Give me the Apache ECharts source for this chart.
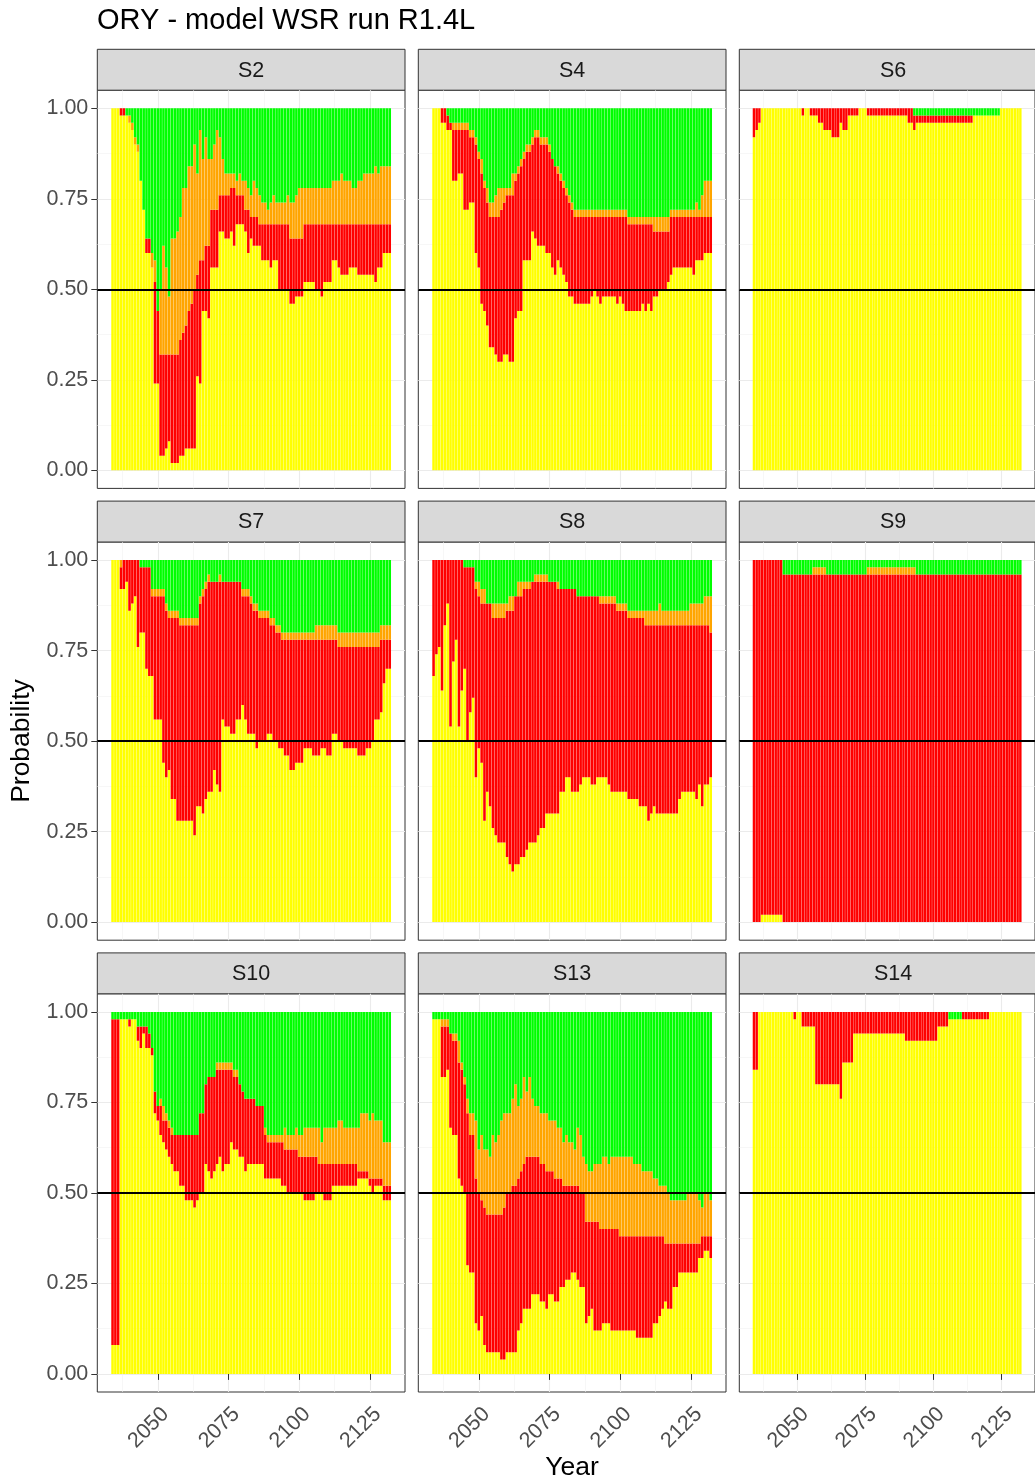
<!DOCTYPE html>
<html>
<head>
<meta charset="utf-8">
<script src="https://cdn.jsdelivr.net/npm/echarts@6/dist/echarts.min.js"></script>
<style>
  html, body { margin: 0; padding: 0; background: #ffffff; }
  #chart { width: 1035px; height: 1484px; }
</style>
</head>
<body>
<div id="chart"></div>
<script>
// Simulation years shown as bars
const firstYear = 2034;
const lastYear = 2132;
const years = [];
for (let yr = firstYear; yr <= lastYear; yr++) years.push(yr);

const panelNames = ['S2', 'S4', 'S6', 'S7', 'S8', 'S9', 'S10', 'S13', 'S14'];
const majorYears = [2050, 2075, 2100, 2125];
const minorYears = [2037.5, 2062.5, 2087.5, 2112.5];
const probTicks = [0, 0.25, 0.5, 0.75, 1];
const probMinor = [0.125, 0.375, 0.625, 0.875];

// Cumulative probability at the top of each band (yellow, red, orange); green fills to 1.
const s2YellowTop = [
  1, 1, 1, .98, .98, .98, .96, .94, .90, .88,
  .80, .72, .60, .60, .56, .24, .24, .04, .04, .06,
  .08, .02, .02, .02, .04, .04, .06, .06, .06, .06,
  .26, .24, .44, .44, .42, .56, .56, .56, .66, .66,
  .64, .64, .66, .62, .68, .68, .68, .66, .60, .64,
  .62, .62, .62, .58, .58, .58, .56, .58, .58, .50,
  .50, .50, .50, .46, .46, .48, .48, .48, .52, .52,
  .52, .52, .50, .50, .48, .52, .52, .52, .58, .58,
  .56, .54, .54, .54, .56, .56, .56, .54, .54, .54,
  .54, .54, .54, .52, .56, .56, .60, .60, .60];
const s2RedTop = [
  1, 1, 1, 1, 1, .98, .96, .94, .90, .88,
  .80, .72, .64, .64, .56, .52, .44, .32, .32, .32,
  .32, .32, .32, .32, .36, .38, .40, .44, .46, .50,
  .54, .58, .58, .62, .62, .72, .72, .72, .76, .76,
  .76, .76, .78, .78, .76, .76, .76, .72, .72, .70,
  .70, .70, .68, .68, .68, .68, .68, .68, .68, .68,
  .68, .68, .68, .64, .64, .64, .64, .64, .68, .68,
  .68, .68, .68, .68, .68, .68, .68, .68, .68, .68,
  .68, .68, .68, .68, .68, .68, .68, .68, .68, .68,
  .68, .68, .68, .68, .68, .68, .68, .68, .68];
const s2OrangeTop = [
  1, 1, 1, 1, 1, .98, .98, .96, .92, .90,
  .80, .72, .64, .64, .60, .58, .44, .50, .62, .56,
  .48, .64, .64, .66, .70, .78, .78, .84, .84, .90,
  .82, .94, .86, .92, .86, .86, .90, .94, .92, .86,
  .82, .82, .82, .82, .80, .82, .80, .80, .78, .76,
  .80, .78, .76, .74, .74, .72, .74, .76, .74, .74,
  .74, .74, .76, .74, .74, .76, .78, .78, .78, .78,
  .78, .78, .78, .78, .78, .78, .78, .78, .80, .80,
  .80, .82, .80, .80, .80, .78, .78, .80, .80, .82,
  .82, .82, .82, .84, .82, .84, .84, .84, .84];

const s4YellowTop = [
  1, 1, 1, .96, .96, .94, .94, .80, .80, .82,
  .82, .72, .72, .74, .74, .60, .56, .46, .44, .40,
  .34, .34, .32, .30, .30, .32, .32, .30, .30, .42,
  .44, .44, .58, .58, .58, .66, .64, .62, .62, .62,
  .60, .60, .56, .54, .58, .56, .54, .52, .48, .48,
  .46, .46, .46, .46, .46, .46, .48, .50, .48, .46,
  .48, .48, .48, .48, .48, .46, .48, .46, .44, .44,
  .44, .44, .44, .44, .46, .44, .46, .44, .48, .48,
  .50, .50, .50, .52, .54, .56, .56, .56, .56, .56,
  .56, .56, .54, .58, .58, .58, .60, .60, .60];
const s4RedTop = [
  1, 1, 1, 1, 1, .98, .96, .94, .94, .94,
  .94, .94, .94, .92, .92, .90, .86, .82, .78, .74,
  .70, .70, .70, .70, .72, .74, .76, .76, .76, .80,
  .82, .84, .86, .88, .88, .90, .92, .92, .90, .90,
  .90, .88, .86, .84, .82, .80, .78, .76, .74, .72,
  .70, .70, .70, .70, .70, .70, .70, .70, .70, .70,
  .70, .70, .70, .70, .70, .70, .70, .70, .70, .68,
  .68, .68, .68, .68, .68, .68, .68, .68, .66, .66,
  .66, .66, .66, .66, .70, .70, .70, .70, .70, .70,
  .70, .70, .70, .70, .70, .70, .70, .70, .70];
const s4OrangeTop = [
  1, 1, 1, 1, 1, .98, .96, .96, .96, .96,
  .96, .96, .96, .94, .94, .92, .88, .86, .80, .78,
  .74, .74, .76, .78, .78, .78, .78, .78, .82, .82,
  .84, .86, .88, .90, .90, .92, .94, .94, .92, .92,
  .92, .90, .86, .84, .84, .82, .80, .78, .76, .74,
  .72, .72, .72, .72, .72, .72, .72, .72, .72, .72,
  .72, .72, .72, .72, .72, .72, .72, .72, .72, .70,
  .70, .70, .70, .70, .70, .70, .70, .70, .70, .70,
  .70, .70, .70, .70, .72, .72, .72, .72, .72, .72,
  .72, .72, .72, .74, .72, .76, .80, .80, .80];

const s6YellowTop = [
  .92, .94, .96, 1, 1, 1, 1, 1, 1, 1,
  1, 1, 1, 1, 1, 1, 1, 1, .98, 1,
  1, .98, .98, .98, .96, .96, .94, .94, .94, .92,
  .92, .92, .96, .94, .94, .98, .98, .98, .98, 1,
  1, 1, .98, .98, .98, .98, .98, .98, .98, .98,
  .98, .98, .98, .98, .98, .98, .98, .96, .96, .94,
  .96, .96, .96, .96, .96, .96, .96, .96, .96, .96,
  .96, .96, .96, .96, .96, .96, .96, .96, .96, .96,
  .96, .98, .98, .98, .98, .98, .98, .98, .98, .98,
  .98, 1, 1, 1, 1, 1, 1, 1, 1];
const s6RedTop = [
  1, 1, 1, 1, 1, 1, 1, 1, 1, 1,
  1, 1, 1, 1, 1, 1, 1, 1, 1, 1,
  1, 1, 1, 1, 1, 1, 1, 1, 1, 1,
  1, 1, 1, 1, 1, 1, 1, 1, 1, 1,
  1, 1, 1, 1, 1, 1, 1, 1, 1, 1,
  1, 1, 1, 1, 1, 1, 1, 1, 1, .98,
  .98, .98, .98, .98, .98, .98, .98, .98, .98, .98,
  .98, .98, .98, .98, .98, .98, .98, .98, .98, .98,
  .98, .98, .98, .98, .98, .98, .98, .98, .98, .98,
  .98, 1, 1, 1, 1, 1, 1, 1, 1];
const s6OrangeTop = s6RedTop;

const s7YellowTop = [
  1, 1, 1, .92, .92, .94, .86, .88, .90, .76,
  .80, .80, .70, .68, .68, .56, .56, .56, .44, .40,
  .42, .34, .34, .28, .28, .28, .28, .28, .28, .24,
  .32, .32, .30, .34, .36, .36, .42, .38, .36, .56,
  .54, .54, .52, .52, .56, .56, .60, .56, .52, .52,
  .52, .48, .50, .50, .50, .52, .52, .50, .50, .48,
  .48, .46, .46, .42, .42, .44, .44, .44, .48, .48,
  .48, .46, .46, .46, .48, .48, .46, .46, .52, .52,
  .50, .50, .48, .48, .48, .48, .48, .46, .46, .46,
  .48, .48, .50, .56, .56, .58, .66, .70, .70];
const s7RedTop = [
  1, 1, 1, .98, 1, 1, 1, 1, 1, 1,
  .98, .98, .98, .98, .90, .90, .90, .90, .90, .86,
  .84, .84, .84, .84, .82, .82, .82, .82, .82, .82,
  .82, .88, .90, .92, .94, .94, .94, .94, .94, .94,
  .94, .94, .94, .94, .94, .94, .90, .90, .90, .88,
  .86, .86, .84, .84, .84, .84, .82, .82, .80, .80,
  .78, .78, .78, .78, .78, .78, .78, .78, .78, .78,
  .78, .78, .78, .78, .78, .78, .78, .78, .78, .78,
  .76, .76, .76, .76, .76, .76, .76, .76, .76, .76,
  .76, .76, .76, .76, .76, .78, .78, .78, .78];
const s7OrangeTop = [
  1, 1, 1, 1, 1, 1, 1, 1, 1, 1,
  .98, .98, .98, .98, .92, .92, .92, .92, .92, .88,
  .86, .86, .86, .86, .84, .84, .84, .84, .84, .84,
  .84, .90, .92, .94, .96, .94, .94, .94, .96, .94,
  .94, .94, .94, .94, .94, .94, .92, .92, .92, .90,
  .88, .88, .86, .86, .86, .86, .84, .84, .82, .82,
  .80, .80, .80, .80, .80, .80, .80, .80, .80, .80,
  .80, .80, .82, .82, .82, .82, .82, .82, .82, .82,
  .80, .80, .80, .80, .80, .80, .80, .80, .80, .80,
  .80, .80, .80, .80, .80, .82, .82, .82, .82];

const s8YellowTop = [
  .68, .74, .76, .64, .82, .88, .54, .72, .78, .54,
  .64, .70, .50, .58, .62, .40, .48, .44, .28, .36,
  .32, .26, .24, .22, .22, .22, .18, .16, .14, .16,
  .16, .18, .18, .20, .22, .22, .22, .24, .26, .26,
  .30, .30, .30, .30, .30, .36, .36, .40, .40, .36,
  .36, .36, .38, .40, .40, .40, .38, .38, .40, .40,
  .40, .40, .38, .36, .36, .36, .36, .36, .36, .34,
  .34, .34, .34, .32, .32, .32, .28, .30, .32, .30,
  .30, .30, .30, .30, .30, .30, .30, .34, .36, .36,
  .36, .36, .36, .34, .38, .32, .38, .38, .40];
const s8RedTop = [
  1, 1, 1, 1, 1, 1, 1, 1, 1, 1,
  1, .98, .98, .98, .98, .92, .90, .88, .88, .88,
  .88, .84, .84, .84, .84, .84, .86, .86, .86, .90,
  .90, .90, .92, .92, .92, .94, .94, .94, .94, .94,
  .94, .94, .94, .94, .92, .92, .92, .92, .92, .92,
  .92, .90, .90, .90, .90, .90, .90, .90, .90, .88,
  .88, .88, .88, .88, .88, .86, .86, .86, .86, .84,
  .84, .84, .84, .84, .84, .82, .82, .82, .82, .82,
  .82, .82, .82, .82, .82, .82, .82, .82, .82, .82,
  .82, .82, .82, .82, .82, .82, .82, .82, .80];
const s8OrangeTop = [
  1, 1, 1, 1, 1, 1, 1, 1, 1, 1,
  1, .98, .98, .98, .98, .94, .94, .92, .92, .88,
  .88, .88, .88, .88, .88, .88, .88, .90, .90, .90,
  .94, .94, .94, .94, .94, .94, .96, .96, .96, .96,
  .96, .94, .94, .94, .94, .92, .92, .92, .92, .92,
  .92, .90, .90, .90, .90, .90, .90, .90, .90, .90,
  .90, .90, .90, .90, .90, .88, .88, .88, .88, .86,
  .86, .86, .86, .86, .86, .86, .86, .86, .86, .86,
  .88, .86, .86, .86, .86, .86, .86, .86, .86, .86,
  .86, .88, .88, .88, .88, .88, .90, .90, .90];

const s9YellowTop = [
  0, 0, 0, .02, .02, .02, .02, .02, .02, .02,
  .02, 0, 0, 0, 0, 0, 0, 0, 0, 0,
  0, 0, 0, 0, 0, 0, 0, 0, 0, 0,
  0, 0, 0, 0, 0, 0, 0, 0, 0, 0,
  0, 0, 0, 0, 0, 0, 0, 0, 0, 0,
  0, 0, 0, 0, 0, 0, 0, 0, 0, 0,
  0, 0, 0, 0, 0, 0, 0, 0, 0, 0,
  0, 0, 0, 0, 0, 0, 0, 0, 0, 0,
  0, 0, 0, 0, 0, 0, 0, 0, 0, 0,
  0, 0, 0, 0, 0, 0, 0, 0, 0];
const s9RedTop = [
  1, 1, 1, 1, 1, 1, 1, 1, 1, 1,
  1, .96, .96, .96, .96, .96, .96, .96, .96, .96,
  .96, .96, .96, .96, .96, .96, .96, .96, .96, .96,
  .96, .96, .96, .96, .96, .96, .96, .96, .96, .96,
  .96, .96, .96, .96, .96, .96, .96, .96, .96, .96,
  .96, .96, .96, .96, .96, .96, .96, .96, .96, .96,
  .96, .96, .96, .96, .96, .96, .96, .96, .96, .96,
  .96, .96, .96, .96, .96, .96, .96, .96, .96, .96,
  .96, .96, .96, .96, .96, .96, .96, .96, .96, .96,
  .96, .96, .96, .96, .96, .96, .96, .96, .96];
const s9OrangeTop = [
  1, 1, 1, 1, 1, 1, 1, 1, 1, 1,
  1, .96, .96, .96, .96, .96, .96, .96, .96, .96,
  .96, .96, .98, .98, .98, .98, .98, .96, .96, .96,
  .96, .96, .96, .96, .96, .96, .96, .96, .96, .96,
  .96, .96, .98, .98, .98, .98, .98, .98, .98, .98,
  .98, .98, .98, .98, .98, .98, .98, .98, .98, .98,
  .96, .96, .96, .96, .96, .96, .96, .96, .96, .96,
  .96, .96, .96, .96, .96, .96, .96, .96, .96, .96,
  .96, .96, .96, .96, .96, .96, .96, .96, .96, .96,
  .96, .96, .96, .96, .96, .96, .96, .96, .96];

const s10YellowTop = [
  .08, .08, .08, .98, .98, .98, .96, .98, .98, .92,
  .90, .94, .90, .90, .88, .72, .70, .66, .64, .62,
  .60, .58, .56, .56, .52, .52, .48, .48, .48, .46,
  .48, .50, .50, .58, .56, .54, .56, .58, .60, .56,
  .58, .58, .64, .62, .62, .60, .60, .56, .58, .58,
  .58, .58, .58, .58, .54, .54, .54, .54, .54, .54,
  .52, .52, .50, .50, .50, .50, .50, .50, .48, .48,
  .48, .48, .50, .50, .50, .48, .48, .48, .52, .52,
  .52, .52, .52, .52, .52, .52, .52, .54, .54, .54,
  .54, .52, .50, .52, .52, .52, .48, .48, .48];
const s10RedTop = [
  .98, .98, .98, .98, .98, .98, .98, .98, .98, .96,
  .96, .96, .96, .94, .90, .78, .74, .74, .70, .70,
  .68, .66, .66, .66, .66, .66, .66, .66, .66, .66,
  .66, .72, .72, .80, .82, .82, .82, .84, .84, .84,
  .84, .84, .84, .82, .82, .80, .78, .76, .76, .76,
  .76, .74, .74, .74, .66, .64, .64, .64, .64, .64,
  .64, .62, .62, .62, .62, .62, .60, .60, .60, .60,
  .60, .60, .60, .58, .58, .58, .58, .58, .58, .58,
  .58, .58, .58, .58, .58, .58, .58, .56, .56, .56,
  .56, .54, .54, .54, .54, .54, .52, .52, .52];
const s10OrangeTop = [
  .98, .98, .98, .98, .98, .98, .98, .98, .98, .96,
  .96, .96, .96, .94, .90, .78, .74, .76, .74, .72,
  .70, .68, .66, .66, .66, .66, .66, .66, .66, .66,
  .66, .72, .72, .80, .82, .82, .82, .86, .86, .86,
  .86, .86, .86, .84, .84, .80, .78, .76, .76, .76,
  .76, .74, .74, .74, .68, .66, .66, .66, .66, .66,
  .66, .68, .66, .66, .66, .68, .66, .66, .68, .68,
  .68, .68, .68, .68, .64, .68, .68, .68, .68, .68,
  .70, .70, .68, .68, .68, .68, .68, .68, .72, .72,
  .72, .70, .72, .70, .70, .70, .64, .64, .64];

const s13YellowTop = [
  .98, .98, .98, .82, .82, .84, .68, .66, .66, .54,
  .52, .50, .30, .28, .28, .14, .12, .16, .08, .06,
  .06, .06, .06, .06, .04, .04, .06, .06, .06, .06,
  .12, .14, .18, .18, .18, .22, .22, .22, .20, .20,
  .18, .22, .22, .20, .20, .24, .24, .26, .26, .28,
  .28, .26, .24, .24, .14, .16, .18, .12, .12, .12,
  .14, .14, .14, .12, .12, .12, .12, .12, .12, .12,
  .12, .12, .10, .10, .10, .10, .10, .10, .14, .14,
  .16, .18, .20, .18, .18, .24, .24, .28, .28, .28,
  .28, .28, .28, .28, .32, .32, .34, .34, .32];
const s13RedTop = [
  .98, .98, .98, .96, .96, .96, .94, .92, .92, .86,
  .84, .80, .72, .66, .66, .54, .50, .48, .46, .44,
  .44, .44, .44, .44, .44, .46, .50, .50, .52, .52,
  .54, .56, .58, .60, .60, .60, .60, .60, .58, .58,
  .56, .56, .56, .54, .54, .54, .52, .52, .52, .52,
  .52, .52, .50, .50, .42, .42, .42, .42, .42, .40,
  .40, .40, .40, .40, .40, .40, .38, .38, .38, .38,
  .38, .38, .38, .38, .38, .38, .38, .38, .38, .38,
  .38, .38, .36, .36, .36, .36, .36, .36, .36, .36,
  .36, .36, .36, .36, .36, .38, .38, .38, .38];
const s13OrangeTop = [
  .98, .98, .98, .98, .98, .98, .94, .94, .94, .92,
  .86, .82, .76, .72, .72, .70, .62, .66, .62, .62,
  .60, .66, .64, .66, .70, .72, .72, .72, .76, .80,
  .74, .76, .82, .78, .82, .76, .74, .74, .72, .72,
  .72, .70, .70, .70, .68, .68, .64, .66, .64, .64,
  .62, .68, .66, .60, .58, .56, .56, .58, .58, .58,
  .60, .60, .58, .60, .60, .60, .60, .60, .60, .60,
  .60, .58, .58, .58, .56, .56, .56, .56, .54, .54,
  .52, .52, .52, .50, .48, .48, .48, .48, .48, .48,
  .50, .50, .50, .50, .48, .46, .50, .50, .48];

const s14YellowTop = [
  .84, .84, 1, 1, 1, 1, 1, 1, 1, 1,
  1, 1, 1, 1, 1, .98, 1, 1, .96, .96,
  .96, .96, .96, .80, .80, .80, .80, .80, .80, .80,
  .80, .80, .76, .86, .86, .86, .86, .94, .94, .94,
  .94, .94, .94, .94, .94, .94, .94, .94, .94, .94,
  .94, .94, .94, .94, .94, .94, .92, .92, .92, .92,
  .92, .92, .92, .92, .92, .92, .92, .92, .96, .96,
  .96, .96, .98, .98, .98, .98, .98, .98, .98, .98,
  .98, .98, .98, .98, .98, .98, .98, 1, 1, 1,
  1, 1, 1, 1, 1, 1, 1, 1, 1];
const s14RedTop = [
  1, 1, 1, 1, 1, 1, 1, 1, 1, 1,
  1, 1, 1, 1, 1, 1, 1, 1, 1, 1,
  1, 1, 1, 1, 1, 1, 1, 1, 1, 1,
  1, 1, 1, 1, 1, 1, 1, 1, 1, 1,
  1, 1, 1, 1, 1, 1, 1, 1, 1, 1,
  1, 1, 1, 1, 1, 1, 1, 1, 1, 1,
  1, 1, 1, 1, 1, 1, 1, 1, 1, 1,
  1, 1, .98, .98, .98, .98, .98, 1, 1, 1,
  1, 1, 1, 1, 1, 1, 1, 1, 1, 1,
  1, 1, 1, 1, 1, 1, 1, 1, 1];
const s14OrangeTop = s14RedTop;

const bandColors = ['#FFFF00', '#FF0000', '#FFA500', '#00FF00'];

const panelBands = {
  S2: [s2YellowTop, s2RedTop, s2OrangeTop],
  S4: [s4YellowTop, s4RedTop, s4OrangeTop],
  S6: [s6YellowTop, s6RedTop, s6OrangeTop],
  S7: [s7YellowTop, s7RedTop, s7OrangeTop],
  S8: [s8YellowTop, s8RedTop, s8OrangeTop],
  S9: [s9YellowTop, s9RedTop, s9OrangeTop],
  S10: [s10YellowTop, s10RedTop, s10OrangeTop],
  S13: [s13YellowTop, s13RedTop, s13OrangeTop],
  S14: [s14YellowTop, s14RedTop, s14OrangeTop]
};

// Facet layout (pixels)
const FONT = "'Liberation Sans', Arial, Helvetica, sans-serif";
const PANEL_LEFT = 97.3, PANEL_W = 307.7, COL_STEP = 321;
const PANEL_TOP = 90.2, PANEL_H = 398.2, ROW_STEP = 451.8;
const STRIP_H = 40.9;
const TICK_FONT = 21.5;
const BAR_W = 0.9;
const xSpan = (lastYear - firstYear) + BAR_W;
const X_MIN = firstYear - BAR_W / 2 - 0.05 * xSpan;
const X_MAX = lastYear + BAR_W / 2 + 0.05 * xSpan;
const Y_MIN = -0.05, Y_MAX = 1.05;

function renderStack(params, api) {
  const yr = api.value(0);
  const levels = [0, api.value(1), api.value(2), api.value(3), 1];
  const x0 = api.coord([yr - BAR_W / 2, 0])[0];
  const x1 = api.coord([yr + BAR_W / 2, 0])[0];
  const children = [];
  for (let b = 0; b < 4; b++) {
    if (levels[b + 1] - levels[b] <= 1e-9) continue;
    const yTop = api.coord([yr, levels[b + 1]])[1];
    const yBot = api.coord([yr, levels[b]])[1];
    children.push({
      type: 'rect',
      shape: { x: x0, y: yTop, width: x1 - x0, height: yBot - yTop },
      style: { fill: bandColors[b] }
    });
  }
  return { type: 'group', children };
}

const grids = [], xAxes = [], yAxes = [], series = [], graphics = [];

panelNames.forEach((name, i) => {
  const row = Math.floor(i / 3), col = i % 3;
  const left = PANEL_LEFT + col * COL_STEP;
  const top = PANEL_TOP + row * ROW_STEP;
  const isBottom = row === 2, isLeft = col === 0;

  grids.push({
    left: left, top: top, width: PANEL_W, height: PANEL_H,
    show: true, backgroundColor: '#FFFFFF', borderColor: '#333333', borderWidth: 1,
    containLabel: false
  });

  // major x axis (ticks + labels + major grid)
  xAxes.push({
    gridIndex: i, type: 'value', min: X_MIN, max: X_MAX, position: 'bottom',
    axisLine: { show: false },
    axisTick: { show: isBottom, customValues: majorYears, length: 6, lineStyle: { color: '#333333', width: 1 } },
    axisLabel: {
      show: isBottom, customValues: majorYears, rotate: 45, margin: 11,
      align: 'right', verticalAlign: 'top',
      color: '#4D4D4D', fontSize: TICK_FONT, fontFamily: FONT,
      formatter: v => String(Math.round(v))
    },
    splitLine: { show: true, lineStyle: { color: '#EBEBEB', width: 1.1 } }
  });
  // minor x grid
  xAxes.push({
    gridIndex: i, type: 'value', min: X_MIN, max: X_MAX, position: 'top',
    axisLine: { show: false }, axisLabel: { show: false },
    axisTick: { show: false, customValues: minorYears },
    splitLine: { show: true, lineStyle: { color: '#F2F2F2', width: 0.6 } }
  });

  yAxes.push({
    gridIndex: i, type: 'value', min: Y_MIN, max: Y_MAX, position: 'left',
    axisLine: { show: false },
    axisTick: { show: isLeft, customValues: probTicks, length: 6, lineStyle: { color: '#333333', width: 1 } },
    axisLabel: {
      show: isLeft, customValues: probTicks, margin: 9,
      color: '#4D4D4D', fontSize: TICK_FONT, fontFamily: FONT,
      formatter: v => v.toFixed(2)
    },
    splitLine: { show: true, lineStyle: { color: '#EBEBEB', width: 1.1 } }
  });
  yAxes.push({
    gridIndex: i, type: 'value', min: Y_MIN, max: Y_MAX, position: 'right',
    axisLine: { show: false }, axisLabel: { show: false },
    axisTick: { show: false, customValues: probMinor },
    splitLine: { show: true, lineStyle: { color: '#F2F2F2', width: 0.6 } }
  });

  const [yel, red, ora] = panelBands[name];
  series.push({
    type: 'custom', name: name,
    xAxisIndex: 2 * i, yAxisIndex: 2 * i,
    renderItem: renderStack,
    clip: true, silent: true, animation: false,
    encode: { x: 0, y: [1, 2, 3] },
    data: years.map((yr, k) => [yr, yel[k], red[k], ora[k]]),
    z: 2
  });
  // 0.5 reference line
  series.push({
    type: 'line', xAxisIndex: 2 * i, yAxisIndex: 2 * i, data: [],
    silent: true, animation: false, z: 5,
    markLine: {
      silent: true, symbol: 'none', animation: false,
      label: { show: false },
      lineStyle: { color: '#000000', width: 1.9, type: 'solid' },
      data: [{ yAxis: 0.5 }]
    }
  });

  // facet strip
  graphics.push({
    type: 'rect', silent: true,
    shape: { x: left, y: top - STRIP_H, width: PANEL_W, height: STRIP_H },
    style: { fill: '#D9D9D9', stroke: '#333333', lineWidth: 1 }
  });
  graphics.push({
    type: 'text', silent: true,
    x: left + PANEL_W / 2, y: top - STRIP_H / 2 + 1,
    style: {
      text: name, fill: '#1A1A1A', font: TICK_FONT + 'px ' + FONT,
      textAlign: 'center', textVerticalAlign: 'middle', align: 'center', verticalAlign: 'middle'
    }
  });
});

graphics.push({
  type: 'text', silent: true, x: 97, y: 21,
  style: { text: 'ORY - model WSR run R1.4L', fill: '#000000', font: '29px ' + FONT,
    textAlign: 'left', textVerticalAlign: 'middle', align: 'left', verticalAlign: 'middle' }
});
graphics.push({
  type: 'text', silent: true, x: 572, y: 1468,
  style: { text: 'Year', fill: '#000000', font: '26.5px ' + FONT,
    textAlign: 'center', textVerticalAlign: 'middle', align: 'center', verticalAlign: 'middle' }
});
graphics.push({
  type: 'text', silent: true, x: 22, y: 741, rotation: Math.PI / 2,
  style: { text: 'Probability', fill: '#000000', font: '26.5px ' + FONT,
    textAlign: 'center', textVerticalAlign: 'middle', align: 'center', verticalAlign: 'middle' }
});

const chart = echarts.init(document.getElementById('chart'), null, { renderer: 'canvas' });
chart.setOption({
  animation: false,
  backgroundColor: '#FFFFFF',
  grid: grids,
  xAxis: xAxes,
  yAxis: yAxes,
  series: series,
  graphic: graphics
});
</script>
</body>
</html>
